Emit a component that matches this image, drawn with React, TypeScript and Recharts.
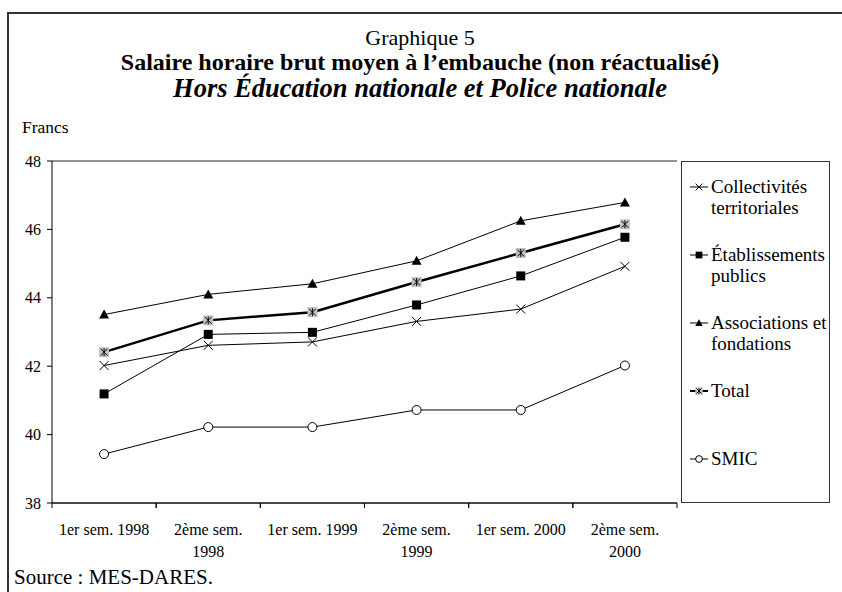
import { LineChart, Line, XAxis, YAxis, CartesianGrid, Legend } from "recharts";

const FONT = "'Liberation Serif', 'Times New Roman', serif";

const categories = [
  "1er sem. 1998",
  "2ème sem. 1998",
  "1er sem. 1999",
  "2ème sem. 1999",
  "1er sem. 2000",
  "2ème sem. 2000",
];
const collectivites = [42.02, 42.61, 42.71, 43.31, 43.67, 44.92];
const etablissements = [41.19, 42.93, 42.99, 43.79, 44.64, 45.77];
const associations = [43.51, 44.1, 44.41, 45.08, 46.25, 46.79];
const total = [42.41, 43.34, 43.58, 44.46, 45.31, 46.15];
const smic = [39.43, 40.22, 40.22, 40.72, 40.72, 42.02];
const yTicks = [38, 40, 42, 44, 46, 48];

const series = [
  { key: "collectivites", name: "Collectivités territoriales", marker: "cross", width: 1 },
  { key: "etablissements", name: "Établissements publics", marker: "square", width: 1 },
  { key: "associations", name: "Associations et fondations", marker: "triangle", width: 1 },
  { key: "total", name: "Total", marker: "star", width: 2.5 },
  { key: "smic", name: "SMIC", marker: "circle", width: 1 },
];

const chartData = categories.map((cat, i) => ({
  cat,
  collectivites: collectivites[i],
  etablissements: etablissements[i],
  associations: associations[i],
  total: total[i],
  smic: smic[i],
}));

function Marker({ type, cx, cy, s = 1 }: { type: string; cx: number; cy: number; s?: number }) {
  if (type === "cross") {
    const h = 4.5 * s;
    return (
      <g stroke="#000" strokeWidth={1}>
        <line x1={cx - h} y1={cy - h} x2={cx + h} y2={cy + h} />
        <line x1={cx - h} y1={cy + h} x2={cx + h} y2={cy - h} />
      </g>
    );
  }
  if (type === "square") {
    const h = 4.5 * s;
    return <rect x={cx - h} y={cy - h} width={2 * h} height={2 * h} fill="#000" />;
  }
  if (type === "triangle") {
    const h = 5 * s;
    return (
      <polygon
        points={`${cx},${cy - h} ${cx - h},${cy + h * 0.8} ${cx + h},${cy + h * 0.8}`}
        fill="#000"
      />
    );
  }
  if (type === "star") {
    const h = 5 * s;
    const a = 3.3 * s;
    return (
      <g>
        <rect x={cx - h} y={cy - h} width={2 * h} height={2 * h} fill="#c0c0c0" />
        <g stroke="#000" strokeWidth={1}>
          <line x1={cx - a} y1={cy - a} x2={cx + a} y2={cy + a} />
          <line x1={cx - a} y1={cy + a} x2={cx + a} y2={cy - a} />
          <line x1={cx} y1={cy - h + 1} x2={cx} y2={cy + h - 1} />
        </g>
      </g>
    );
  }
  return <circle cx={cx} cy={cy} r={4.5 * s} fill="#fff" stroke="#000" strokeWidth={1} />;
}

// Excel-style category labels: ticks sit on the band edges, long labels wrap before the year
function XTick(props: any) {
  const { x, y, payload } = props;
  const half = payload.offset || 52;
  const text: string = payload.value;
  const cut = text.lastIndexOf(" ");
  const lines = text.length > 13 ? [text.slice(0, cut), text.slice(cut + 1)] : [text];
  return (
    <g>
      <line x1={x - half} y1={y} x2={x - half} y2={y + 5} stroke="#000" />
      <line x1={x + half} y1={y} x2={x + half} y2={y + 5} stroke="#000" />
      <text x={x} y={y} textAnchor="middle" fontFamily={FONT} fontSize={16} fill="#000">
        {lines.map((l, i) => (
          <tspan key={i} x={x} dy={i === 0 ? 32 : 22}>
            {l}
          </tspan>
        ))}
      </text>
    </g>
  );
}

function LegendBox() {
  return (
    <div
      style={{
        boxSizing: "border-box",
        width: 149,
        height: 342,
        border: "1.5px solid #333",
        padding: "14px 0 0 7px",
        fontFamily: FONT,
        fontSize: 19,
        lineHeight: "21px",
        color: "#000",
        background: "#fff",
      }}
    >
      {series.map((s) => (
        <div key={s.key} style={{ display: "flex", alignItems: "flex-start", height: 68 }}>
          <svg width={22} height={21} style={{ flex: "none" }}>
            <line x1={1} y1={11} x2={19} y2={11} stroke="#000" strokeWidth={s.width > 1 ? 2 : 1} />
            <Marker type={s.marker} cx={10} cy={11} s={0.75} />
          </svg>
          <span style={{ width: 117 }}>{s.name}</span>
        </div>
      ))}
    </div>
  );
}

const titleStyle = {
  position: "absolute" as const,
  left: 0,
  width: 840,
  textAlign: "center" as const,
  fontFamily: FONT,
  lineHeight: "26px",
  color: "#000",
};

export default function App() {
  return (
    <div
      style={{
        position: "absolute",
        left: 0,
        top: 0,
        width: 842,
        height: 592,
        background: "#fff",
        overflow: "hidden",
      }}
    >
      <div style={{ position: "absolute", left: 0, top: 0 }}>
        <LineChart
          width={842}
          height={592}
          data={chartData}
          margin={{ top: 161, right: 165, bottom: 59, left: 12 }}
        >
          <CartesianGrid vertical={false} stroke="#000" strokeOpacity={0.85} />
          <XAxis
            dataKey="cat"
            scale="band"
            height={30}
            interval={0}
            tickLine={false}
            tickSize={0}
            tickMargin={0}
            axisLine={{ stroke: "#000" }}
            tick={<XTick />}
          />
          <YAxis
            yAxisId="left"
            width={40}
            domain={[38, 48]}
            ticks={yTicks}
            interval={0}
            tickSize={5}
            tickMargin={6}
            axisLine={{ stroke: "#000" }}
            tickLine={{ stroke: "#000" }}
            tick={{ fontFamily: FONT, fontSize: 16, fill: "#000" }}
          />
          <YAxis
            yAxisId="right"
            orientation="right"
            width={0}
            domain={[38, 48]}
            tick={false}
            tickLine={false}
            axisLine={{ stroke: "#000" }}
          />
          <Legend
            layout="horizontal"
            verticalAlign="middle"
            content={() => <LegendBox />}
            wrapperStyle={{ position: "absolute", left: 681, top: 161, width: 149, height: 342 }}
          />
          {series.map((s) => (
            <Line
              key={s.key}
              yAxisId="left"
              type="linear"
              dataKey={s.key}
              name={s.name}
              stroke="#000"
              strokeWidth={s.width}
              isAnimationActive={false}
              dot={(p: any) => <Marker key={`${s.key}-${p.index}`} type={s.marker} cx={p.cx} cy={p.cy} />}
              activeDot={false}
            />
          ))}
        </LineChart>
      </div>

      <div
        style={{
          position: "absolute",
          left: 7,
          top: 12,
          width: 850,
          height: 600,
          borderTop: "2px solid #333",
          borderLeft: "2px solid #333",
          pointerEvents: "none",
        }}
      />
      <div style={{ ...titleStyle, top: 25, fontSize: 22 }}>Graphique 5</div>
      <div style={{ ...titleStyle, top: 49, fontSize: 24, fontWeight: "bold" }}>
        Salaire horaire brut moyen à l’embauche (non réactualisé)
      </div>
      <div style={{ ...titleStyle, top: 75, fontSize: 26.5, fontStyle: "italic", fontWeight: "bold" }}>
        Hors Éducation nationale et Police nationale
      </div>
      <div
        style={{
          position: "absolute",
          left: 22,
          top: 117,
          fontFamily: FONT,
          fontSize: 17.5,
          lineHeight: "20px",
          color: "#000",
        }}
      >
        Francs
      </div>
      <div
        style={{
          position: "absolute",
          left: 14,
          top: 565,
          fontFamily: FONT,
          fontSize: 21,
          lineHeight: "24px",
          color: "#000",
        }}
      >
        Source : MES-DARES.
      </div>
    </div>
  );
}
